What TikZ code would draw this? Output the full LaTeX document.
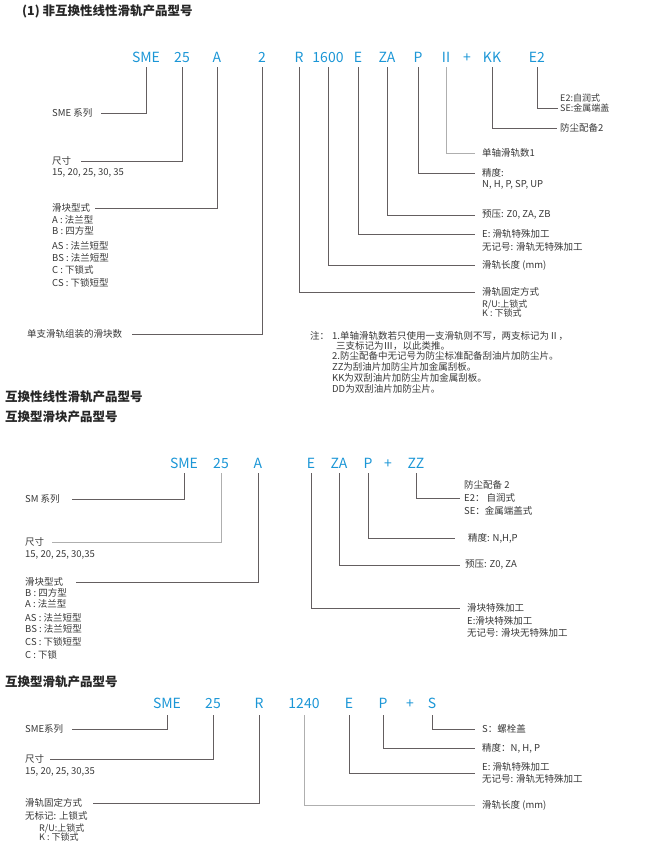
\documentclass[tikz,border=0pt]{standalone}
\usepackage{fontspec}
\setmainfont{Noto Sans CJK SC}
\definecolor{codeblue}{RGB}{27,150,214}
\definecolor{linec}{RGB}{100,94,96}
\definecolor{linel}{RGB}{175,175,175}
\definecolor{txt}{RGB}{55,55,55}
\begin{document}
\begin{tikzpicture}[x=1pt,y=-1pt,
  code/.style={font=\fontsize{14}{14}\selectfont, text=codeblue, anchor=base, inner sep=0pt},
  lab/.style={font=\fontsize{9.5}{12}\selectfont, text=txt, anchor=west, inner sep=0pt, align=left},
  labs/.style={font=\fontsize{9}{9.5}\selectfont, text=txt, anchor=west, inner sep=0pt, align=left},
  ttl/.style={font=\fontsize{12.5}{13}\selectfont\bfseries, text=black!85, anchor=west, inner sep=0pt},
  conn/.style={draw=linec, line width=0.9pt},
  connl/.style={draw=linel, line width=0.9pt}]
\useasboundingbox (0,0) rectangle (661,854);

% ---------- Section 1 ----------
\node[ttl] (t1) at (22,11) {(1) 非互换性线性滑轨产品型号};

\node[code] (asme) at (146,62) {SME};
\node[code] (a25) at (182,62) {25};
\node[code] (aA) at (217,62) {A};
\node[code] (a2) at (262,62) {2};
\node[code] (aR) at (299,62) {R};
\node[code] (a1600) at (328,62) {1600};
\node[code] (aE) at (358,62) {E};
\node[code] (aZA) at (387,62) {ZA};
\node[code] (aP) at (418,62) {P};
\node[code] (aII) at (446,62) {II};
\node[code] (aplus) at (467,62) {+};
\node[code] (aKK) at (492,62) {KK};
\node[code] (aE2) at (537,62) {E2};

\node[lab] (lsme) at (52,113) {SME 系列};
\node[lab] (lsize) at (52,161) {尺寸};
\node[lab] (lsizev) at (52,173) {15, 20, 25, 30, 35};
\node[lab] (ltype) at (52,208) {滑块型式};
\node[lab] (ltA) at (52,220) {A : 法兰型};
\node[lab] (ltB) at (52,231) {B : 四方型};
\node[lab] (ltAS) at (52,246) {AS : 法兰短型};
\node[lab] (ltBS) at (52,258) {BS : 法兰短型};
\node[lab] (ltC) at (52,270) {C : 下锁式};
\node[lab] (ltCS) at (52,283) {CS : 下锁短型};
\node[lab] (lcnt) at (27,334) {单支滑轨组装的滑块数};

\node[labs] (le2a) at (560,98) {E2:自润式};
\node[labs] (le2b) at (560,108) {SE:金属端盖};
\node[lab] (lkk) at (560,128) {防尘配备2};
\node[lab] (lii) at (482,153) {单轴滑轨数1};
\node[lab] (lpa) at (482,173) {精度:};
\node[lab] (lpb) at (482,185) {N, H, P, SP, UP};
\node[lab] (lza) at (482,215) {预压: Z0, ZA, ZB};
\node[lab] (lea) at (482,234) {E: 滑轨特殊加工};
\node[lab] (leb) at (482,247) {无记号: 滑轨无特殊加工};
\node[lab] (llen) at (482,265) {滑轨长度 (mm)};
\node[lab] (lra) at (482,292) {滑轨固定方式};
\node[labs] (lrb) at (482,304) {R/U:上锁式};
\node[labs] (lrc) at (482,313) {K : 下锁式};

\node[lab] (n0) at (310,336) {注：};
\node[lab] (n1) at (332,336) {1.单轴滑轨数若只使用一支滑轨则不写，两支标记为Ⅱ，};
\node[lab] (n2) at (336,346) {三支标记为Ⅲ，以此类推。};
\node[lab] (n3) at (332,356) {2.防尘配备中无记号为防尘标准配备刮油片加防尘片。};
\node[lab] (n4) at (332,367) {ZZ为刮油片加防尘片加金属刮板。};
\node[lab] (n5) at (332,378) {KK为双刮油片加防尘片加金属刮板。};
\node[lab] (n6) at (332,389) {DD为双刮油片加防尘片。};

\draw[conn] ([yshift=-5pt]asme.base) |- ([xshift=8pt]lsme.east);
\draw[conn] ([yshift=-5pt]a25.base) |- ([xshift=10pt]lsize.east);
\draw[conn] ([yshift=-5pt]aA.base) |- ([xshift=5pt]ltype.east);
\draw[conn] ([yshift=-5pt]a2.base) |- ([xshift=10pt]lcnt.east);
\draw[conn] ([yshift=-5pt]aR.base) |- ([xshift=-7pt]lra.west);
\draw[conn] ([yshift=-5pt]a1600.base) |- ([xshift=-7pt]llen.west);
\draw[conn] ([yshift=-5pt]aE.base) |- ([xshift=-7pt]lea.west);
\draw[conn] ([yshift=-5pt]aZA.base) |- ([xshift=-7pt]lza.west);
\draw[conn] ([yshift=-5pt]aP.base) |- ([xshift=-7pt]lpa.west);
\draw[connl] ([yshift=-5pt]aII.base) |- ([xshift=-7pt]lii.west);
\draw[conn] ([yshift=-5pt]aKK.base) |- ([xshift=-3pt]lkk.west);
\draw[conn] ([yshift=-5pt]aE2.base) |- ([xshift=-2pt]le2b.west);

% ---------- Section 2 ----------
\node[ttl] (t2) at (5,397) {互换性线性滑轨产品型号};
\node[ttl] (t3) at (5,417) {互换型滑块产品型号};

\node[code] (bsme) at (184,468) {SME};
\node[code] (b25) at (221,468) {25};
\node[code] (bA) at (258,468) {A};
\node[code] (bE) at (311,468) {E};
\node[code] (bZA) at (339,468) {ZA};
\node[code] (bP) at (368,468) {P};
\node[code] (bplus) at (388,468) {+};
\node[code] (bZZ) at (416,468) {ZZ};

\node[lab] (msm) at (25,499) {SM 系列};
\node[lab] (msize) at (25,542) {尺寸};
\node[lab] (msizev) at (25,555) {15, 20, 25, 30,35};
\node[lab] (mtype) at (25,582) {滑块型式};
\node[lab] (mtB) at (25,593) {B : 四方型};
\node[lab] (mtA) at (25,604) {A : 法兰型};
\node[lab] (mtAS) at (25,618) {AS : 法兰短型};
\node[lab] (mtBS) at (25,629) {BS : 法兰短型};
\node[lab] (mtCS) at (25,642) {CS : 下锁短型};
\node[lab] (mtC) at (25,655) {C : 下锁};

\node[lab] (mzza) at (464,485) {防尘配备 2};
\node[lab] (mzzb) at (464,498) {E2： 自润式};
\node[lab] (mzzc) at (464,511) {SE：金属端盖式};
\node[lab] (mp) at (468,538) {精度: N,H,P};
\node[lab] (mza) at (465,565) {预压: Z0, ZA};
\node[lab] (mea) at (467,608) {滑块特殊加工};
\node[lab] (meb) at (467,621) {E:滑块特殊加工};
\node[lab] (mec) at (467,633) {无记号: 滑块无特殊加工};

\draw[conn] ([yshift=-5pt]bsme.base) |- ([xshift=12pt]msm.east);
\draw[connl] ([yshift=-5pt]b25.base) |- ([xshift=8pt]msize.east);
\draw[conn] ([yshift=-5pt]bA.base) |- ([xshift=13pt]mtype.east);
\draw[conn] ([yshift=-5pt]bE.base) |- ([xshift=-7pt]mea.west);
\draw[conn] ([yshift=-5pt]bZA.base) |- ([xshift=-5pt]mza.west);
\draw[conn] ([yshift=-5pt]bP.base) |- ([xshift=-13pt]mp.west);
\draw[conn] ([yshift=-5pt]bZZ.base) |- ([xshift=-4pt]mzzb.west);

% ---------- Section 3 ----------
\node[ttl] (t4) at (5,682) {互换型滑轨产品型号};

\node[code] (csme) at (167,708) {SME};
\node[code] (c25) at (213,708) {25};
\node[code] (cR) at (259,708) {R};
\node[code] (c1240) at (304,708) {1240};
\node[code] (cE) at (349,708) {E};
\node[code] (cP) at (383,708) {P};
\node[code] (cplus) at (410,708) {+};
\node[code] (cS) at (432,708) {S};

\node[lab] (rsme) at (25,729) {SME系列};
\node[lab] (rsize) at (25,759) {尺寸};
\node[lab] (rsizev) at (25,772) {15, 20, 25, 30,35};
\node[lab] (rfix) at (25,803) {滑轨固定方式};
\node[lab] (rfixa) at (25,816) {无标记: 上锁式};
\node[labs] (rfixb) at (39,828) {R/U:上锁式};
\node[labs] (rfixc) at (39,837) {K : 下锁式};

\node[lab] (rs) at (482,729) {S：螺栓盖};
\node[lab] (rp) at (482,748) {精度：N, H, P};
\node[lab] (re) at (482,773) {E: 滑轨特殊加工\\无记号: 滑轨无特殊加工};
\node[lab] (rlen) at (482,805) {滑轨长度 (mm)};

\draw[conn] ([yshift=-7pt]csme.base) |- ([xshift=9pt]rsme.east);
\draw[conn] ([yshift=-7pt]c25.base) |- ([xshift=6pt]rsize.east);
\draw[conn] ([yshift=-7pt]cR.base) |- ([xshift=11pt]rfix.east);
\draw[connl] ([yshift=-7pt]c1240.base) |- ([xshift=-7pt]rlen.west);
\draw[conn] ([yshift=-7pt]cE.base) |- ([xshift=-7pt]re.west);
\draw[conn] ([yshift=-7pt]cP.base) |- ([xshift=-7pt]rp.west);
\draw[conn] ([yshift=-7pt]cS.base) |- ([xshift=-7pt]rs.west);
\end{tikzpicture}
\end{document}
